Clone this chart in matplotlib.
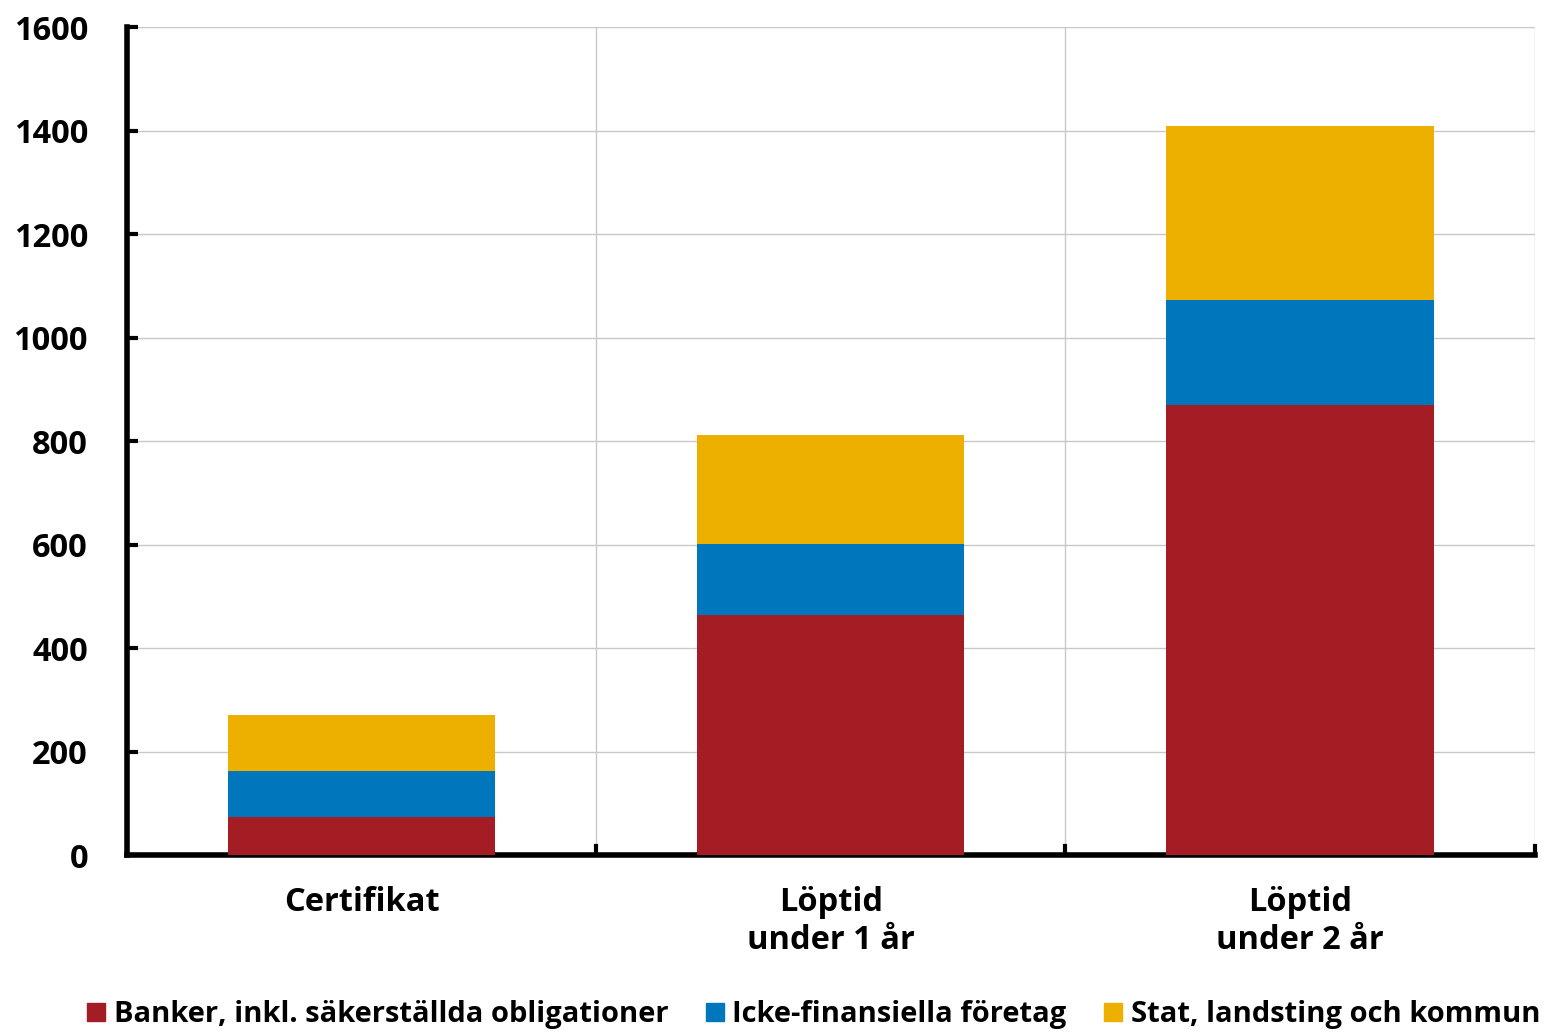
import matplotlib
matplotlib.use('Agg')

import numpy as np
import matplotlib.pyplot as plt
from matplotlib.patches import Patch

# data
categories = ['Certifikat', 'Löptid\nunder 1 år', 'Löptid\nunder 2 år']
series_names = ['Banker, inkl. säkerställda obligationer',
                'Icke-finansiella företag',
                'Stat, landsting och kommun']
banker = [73, 464, 870]
icke_fin = [89, 137, 202]
stat = [108, 211, 337]
colors = ['#A51D24', '#0077BD', '#EEB000']

plt.rcParams['font.family'] = ['Open Sans', 'DejaVu Sans']
plt.rcParams['font.weight'] = 'bold'

fig = plt.figure(figsize=(15.5, 10.35), dpi=100)
ax = fig.add_axes([0.0819, 0.1739, 0.9081, 0.8])

x = np.arange(len(categories))
w = 0.57
bottom = np.zeros(len(categories))
for vals, c in zip([banker, icke_fin, stat], colors):
    ax.bar(x, vals, w, bottom=bottom, color=c, zorder=3)
    bottom += np.array(vals)

ax.set_xlim(-0.5, 2.5)
ax.set_ylim(0, 1600)
ax.set_yticks(range(0, 1601, 200))
ax.set_xticks(x)
ax.set_xticklabels(categories, fontsize=23.5, fontweight='bold', linespacing=1.2)
ax.tick_params(axis='x', length=0, pad=22)
ax.tick_params(axis='y', direction='in', length=8, width=3, labelsize=23.5, pad=28)
for lab in ax.get_yticklabels():
    lab.set_fontweight('bold')

# vertical grid lines at category boundaries plus boundary tick marks
for b in [0.5, 1.5, 2.5]:
    ax.axvline(b, color='#c8c8c8', lw=1, zorder=1)
    ax.plot([b, b], [0, 18], color='black', lw=3, clip_on=False, zorder=4)
ax.yaxis.grid(True, color='#c8c8c8', lw=1, zorder=1)

for s in ['top', 'right']:
    ax.spines[s].set_visible(False)
ax.spines['left'].set_linewidth(4)
ax.spines['bottom'].set_linewidth(4)

handles = [Patch(color=c) for c in colors]
fig.legend(handles, series_names, loc='lower center', bbox_to_anchor=(0.525, -0.02),
           ncol=3, frameon=False, handlelength=0.6, handleheight=0.6,
           handletextpad=0.3, columnspacing=1.3,
           prop={'family': 'Open Sans', 'weight': 'bold', 'size': 21})

fig.savefig('out.png', dpi=100)
